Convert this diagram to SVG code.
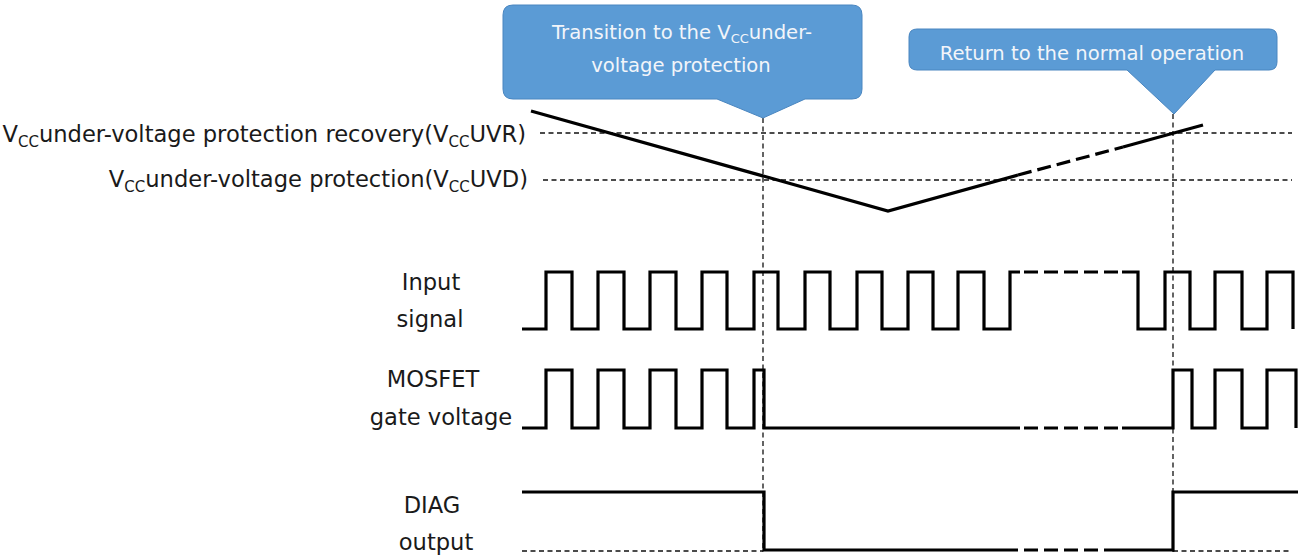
<svg xmlns="http://www.w3.org/2000/svg" width="1298" height="556" viewBox="0 0 1298 556">
<style>
.lbl{font-family:"DejaVu Sans","Verdana",sans-serif;font-size:22.6px;fill:#1a1a1a}
.co{font-family:"DejaVu Sans","Verdana",sans-serif;font-size:19.6px;fill:#f2f5fa}
.bubble{fill:#5b9bd5;stroke:#4a86c0;stroke-width:1}
.sig{fill:none;stroke:#000;stroke-width:3.2;stroke-linejoin:miter;stroke-linecap:butt}
.sigd{fill:none;stroke:#000;stroke-width:3.2;stroke-dasharray:14 6}
.ref{fill:none;stroke:#111;stroke-width:1.3;stroke-dasharray:5 3.5}
</style>
<rect width="1298" height="556" fill="#fff"/>
<g id="reference-lines">
<path class="ref" d="M540 133 H1292"/>
<path class="ref" d="M543 180 H1292"/>
<path class="ref" d="M763 118 V552"/>
<path class="ref" d="M1173 114 V552"/>
<path class="ref" d="M522 551 H763"/>
<path class="ref" d="M1173 551 H1292"/>
</g>
<g id="callout-transition">
<path class="bubble" d="M513 5 H852 Q862 5 862 15 V89 Q862 99 852 99 H805 L763 118 L717 99 H513 Q503 99 503 89 V15 Q503 5 513 5 Z"/>
<text class="co" x="682" y="39" text-anchor="middle">Transition to the V<tspan font-size="13" dy="4">CC</tspan><tspan dy="-4">under-</tspan></text>
<text class="co" x="681" y="72" text-anchor="middle">voltage protection</text>
</g>
<g id="callout-return">
<path class="bubble" d="M917 29 H1269 Q1277 29 1277 37 V62 Q1277 70 1269 70 H1215 L1174 114 L1127 70 H917 Q909 70 909 62 V37 Q909 29 917 29 Z"/>
<text class="co" x="1092" y="60" text-anchor="middle">Return to the normal operation</text>
</g>
<g id="labels">
<text class="lbl" x="526" y="142" text-anchor="end">V<tspan font-size="15" dy="5">CC</tspan><tspan dy="-5">under-voltage protection recovery(V</tspan><tspan font-size="15" dy="5">CC</tspan><tspan dy="-5">UVR)</tspan></text>
<text class="lbl" x="528" y="187" text-anchor="end">V<tspan font-size="15" dy="5">CC</tspan><tspan dy="-5">under-voltage protection(V</tspan><tspan font-size="15" dy="5">CC</tspan><tspan dy="-5">UVD)</tspan></text>
<text class="lbl" x="431" y="290" text-anchor="middle">Input</text>
<text class="lbl" x="430" y="327" text-anchor="middle">signal</text>
<text class="lbl" x="433" y="387" text-anchor="middle">MOSFET</text>
<text class="lbl" x="441" y="425" text-anchor="middle">gate voltage</text>
<text class="lbl" x="432" y="513" text-anchor="middle">DIAG</text>
<text class="lbl" x="436" y="550" text-anchor="middle">output</text>
</g>
<g id="vcc-waveform">
<path class="sig" d="M531 111 L888 211 L1018 175"/>
<path class="sigd" d="M1018 175 L1123 147"/>
<path class="sig" d="M1123 147 L1203 125"/>
</g>
<g id="input-signal">
<path class="sig" d="M522 329 H546 V272 H572 V329 H598 V272 H624 V329 H650 V272 H676 V329 H702 V272 H727 V329 H754 V272 H778 V329 H805 V272 H830 V329 H857 V272 H882 V329 H908 V272 H933 V329 H958 V272 H984 V329 H1010 V272 H1020"/>
<path class="sigd" d="M1024 272 H1122"/>
<path class="sig" d="M1122 272 H1138 V329 H1165 V272 H1190 V329 H1215 V272 H1242 V329 H1267 V272 H1293 V329"/>
</g>
<g id="gate-voltage">
<path class="sig" d="M522 428 H546 V370 H572 V428 H598 V370 H624 V428 H650 V370 H676 V428 H702 V370 H727 V428 H754 V370 H764 V428 H1020"/>
<path class="sigd" d="M1024 428 H1122"/>
<path class="sig" d="M1122 428 H1173 V370 H1192 V428 H1215 V370 H1242 V428 H1267 V370 H1296 V428"/>
</g>
<g id="diag-output">
<path class="sig" d="M522 492 H764 V550 H1018"/>
<path class="sigd" d="M1024 550 H1115"/>
<path class="sig" d="M1115 550 H1173 V492 H1298"/>
</g>
</svg>
